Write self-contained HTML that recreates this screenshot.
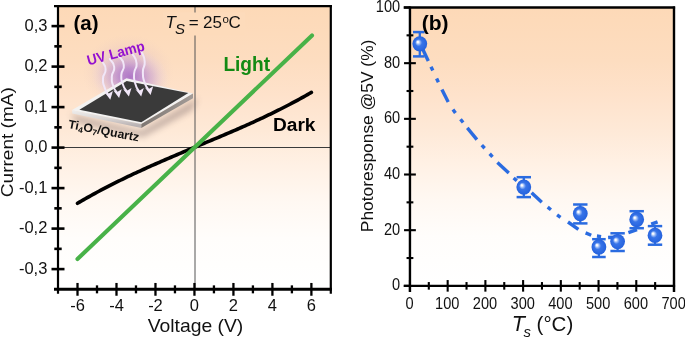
<!DOCTYPE html>
<html><head><meta charset="utf-8">
<style>
html,body{margin:0;padding:0;background:#fff;}
body{width:685px;height:338px;overflow:hidden;font-family:"Liberation Sans",sans-serif;}
svg{display:block;font-family:"Liberation Sans",sans-serif;will-change:transform;}
</style></head><body>
<svg width="685" height="338" viewBox="0 0 685 338">
<defs>
<linearGradient id="bgA" x1="0" y1="0" x2="0" y2="1">
<stop offset="0" stop-color="#fdd9b7"/><stop offset="0.19" stop-color="#fdddc0"/><stop offset="0.314" stop-color="#fee2cb"/><stop offset="0.44" stop-color="#fee9d7"/><stop offset="0.566" stop-color="#fff1e5"/><stop offset="0.69" stop-color="#fff8f2"/><stop offset="0.82" stop-color="#fffdfb"/><stop offset="1" stop-color="#ffffff"/>
</linearGradient>
<radialGradient id="glow" cx="0.5" cy="0.5" r="0.5">
<stop offset="0" stop-color="#9a58c6" stop-opacity="0.72"/><stop offset="0.3" stop-color="#a973cf" stop-opacity="0.62"/><stop offset="0.58" stop-color="#c29bd8" stop-opacity="0.42"/><stop offset="0.82" stop-color="#dcc3e4" stop-opacity="0.18"/><stop offset="1" stop-color="#ead9f0" stop-opacity="0"/>
</radialGradient>
<radialGradient id="halo" cx="0.5" cy="0.5" r="0.5">
<stop offset="0" stop-color="#c9a3cb" stop-opacity="0.5"/><stop offset="0.55" stop-color="#dbb9c6" stop-opacity="0.34"/><stop offset="0.8" stop-color="#e6c6c4" stop-opacity="0.16"/><stop offset="1" stop-color="#eed0c2" stop-opacity="0"/>
</radialGradient>
<linearGradient id="faceL" x1="0" y1="0" x2="0.2" y2="1"><stop offset="0" stop-color="#efedec"/><stop offset="0.55" stop-color="#d9d5d4"/><stop offset="1" stop-color="#b9b2b3"/></linearGradient>
<linearGradient id="faceR" x1="0" y1="0" x2="1" y2="0"><stop offset="0" stop-color="#7d7672"/><stop offset="1" stop-color="#a39c98"/></linearGradient>
<radialGradient id="ball" cx="0.5" cy="0.5" r="0.5" fx="0.35" fy="0.37">
<stop offset="0" stop-color="#ffffff"/><stop offset="0.1" stop-color="#f6f9ff"/><stop offset="0.28" stop-color="#8fb3f5"/><stop offset="0.46" stop-color="#3874e8"/><stop offset="1" stop-color="#2562dd"/>
</radialGradient>
<filter id="blur3" x="-30%" y="-30%" width="160%" height="160%"><feGaussianBlur stdDeviation="3"/></filter>
</defs>
<rect width="685" height="338" fill="#fff"/>

<rect x="58" y="6.1" width="272.8" height="283.25" fill="url(#bgA)"/>
<line x1="58" y1="147.5" x2="330.8" y2="147.5" stroke="#3a3a3a" stroke-width="1"/>
<line x1="195" y1="6.1" x2="195" y2="289.35" stroke="#555" stroke-width="1"/>
<rect x="163" y="12.5" width="82" height="23" fill="#fddbbb"/>
<g id="inset">
<ellipse cx="128" cy="72" rx="46" ry="38" fill="url(#halo)"/>
<ellipse cx="130" cy="77" rx="39" ry="30" fill="url(#glow)" transform="rotate(10 130 77)"/>
<polygon points="70,114 141,131 198,98 192,110 143,137 78,123" fill="#7d6a6c" opacity="0.45" filter="url(#blur3)"/>
<polygon points="126.5,78.2 193.2,93.4 141.3,124.1 71.6,110.2" fill="#f3f2f1"/>
<polygon points="72.2,110.3 141.3,124 141.3,128 72.2,113.4" fill="url(#faceL)"/>
<polygon points="141.3,124 193,93.6 193,98.2 141.3,128" fill="url(#faceR)"/>
<polygon points="126.7,80.9 188.3,93.1 141.3,122.2 79.4,109.8" fill="#3a3a3a"/>
<g fill="none" stroke="#f1e7f8" stroke-width="2" stroke-linecap="round">
<path d="M102.6,62 C103.6,64.5 105.47,64 105.6,69.5 C105.73,75 103.33,72.5 103,78.5 C102.67,84.5 102.9,82.2 104.6,87.5 C106.3,92.8 106.93,92.1 108.1,94.4"/>
<path d="M109.8,59 C111.27,61.67 113.53,61.07 114.2,67 C114.87,72.93 112.1,70.47 111.8,76.8 C111.5,83.13 111.6,80.7 113.3,86 C115,91.3 115.7,90.47 116.9,92.7"/>
<path d="M119,56 C120.6,59 123.03,58.67 123.8,65 C124.57,71.33 121.6,68.5 121.3,75 C121,81.5 121.1,79.07 122.9,84.5 C124.7,89.93 125.43,89.03 126.7,91.3"/>
<path d="M132.6,54 C133.93,57.17 136.1,56.97 136.6,63.5 C137.1,70.03 134.5,66.77 134.1,73.6 C133.7,80.43 133.77,78.1 135.4,84 C137.03,89.9 137.8,88.87 139,91.3"/>
<path d="M141.4,51.5 C142.5,54.83 144.2,54.67 144.7,61.5 C145.2,68.33 142.93,65 142.9,72 C142.87,79 142.77,76.63 144.6,82.5 C146.43,88.37 147.13,87.23 148.4,89.6"/>
</g>
<g fill="#f1e7f8">
<path d="M110.3,99.7 L104.4,92 L108,94 L112.9,91 Z"/>
<path d="M119.1,98 L113.2,90.3 L116.8,92.3 L121.7,89.3 Z"/>
<path d="M128.9,96.6 L123,88.9 L126.6,90.9 L131.5,87.9 Z"/>
<path d="M141.2,96.6 L135.3,88.9 L138.9,90.9 L143.8,87.9 Z"/>
<path d="M150.6,94.9 L144.7,87.2 L148.3,89.2 L153.2,86.2 Z"/>
</g>
<text transform="translate(88.5,65.5) rotate(-15)" font-size="14.5" font-weight="bold" fill="#9310d0" textLength="59" lengthAdjust="spacingAndGlyphs">UV Lamp</text>
<text transform="translate(67.7,128) rotate(10.8)" font-size="12.1" font-weight="bold" fill="#111" textLength="72" lengthAdjust="spacingAndGlyphs">Ti<tspan font-size="8.2" dy="2.2">4</tspan><tspan dy="-2.2">O</tspan><tspan font-size="8.2" dy="2.2">7</tspan><tspan dy="-2.2">/Quartz</tspan></text>
</g>
<polyline points="77.51,203.3 79.46,202.15 81.41,201.01 83.36,199.89 85.31,198.77 87.25,197.66 89.2,196.57 91.15,195.48 93.1,194.41 95.05,193.34 97,192.28 98.95,191.23 100.9,190.19 102.85,189.16 104.8,188.14 106.74,187.13 108.69,186.12 110.64,185.13 112.59,184.14 114.54,183.16 116.49,182.18 118.44,181.22 120.39,180.26 122.34,179.31 124.29,178.36 126.23,177.42 128.18,176.49 130.13,175.56 132.08,174.64 134.03,173.73 135.98,172.82 137.93,171.92 139.88,171.02 141.83,170.13 143.78,169.24 145.72,168.36 147.67,167.48 149.62,166.6 151.57,165.73 153.52,164.87 155.47,164.01 157.42,163.15 159.37,162.29 161.32,161.44 163.27,160.6 165.21,159.75 167.16,158.91 169.11,158.07 171.06,157.23 173.01,156.4 174.96,155.56 176.91,154.73 178.86,153.9 180.81,153.07 182.76,152.25 184.7,151.42 186.65,150.59 188.6,149.77 190.55,148.95 192.5,148.12 194.45,147.3 196.4,146.49 198.35,145.69 200.3,144.88 202.25,144.07 204.19,143.26 206.14,142.45 208.09,141.64 210.04,140.83 211.99,140.02 213.94,139.2 215.89,138.38 217.84,137.56 219.79,136.74 221.74,135.92 223.69,135.09 225.63,134.27 227.58,133.43 229.53,132.6 231.48,131.76 233.43,130.92 235.38,130.08 237.33,129.23 239.28,128.37 241.23,127.52 243.17,126.66 245.12,125.79 247.07,124.92 249.02,124.05 250.97,123.17 252.92,122.28 254.87,121.39 256.82,120.49 258.77,119.59 260.72,118.68 262.66,117.77 264.61,116.85 266.56,115.92 268.51,114.99 270.46,114.05 272.41,113.1 274.36,112.15 276.31,111.18 278.26,110.21 280.21,109.24 282.15,108.25 284.1,107.26 286.05,106.26 288,105.25 289.95,104.23 291.9,103.2 293.85,102.16 295.8,101.12 297.75,100.06 299.7,99 301.64,97.92 303.59,96.84 305.54,95.75 307.49,94.64 309.44,93.53 311.39,92.4" fill="none" stroke="#000" stroke-width="3.6" stroke-linecap="round" stroke-linejoin="round"/>
<line x1="77.5" y1="259" x2="312" y2="35.5" stroke="#48b248" stroke-width="4.1" stroke-linecap="round"/>
<g stroke="#000" fill="none">
<line x1="54" y1="289.35" x2="331.9" y2="289.35" stroke-width="3"/>
<line x1="58" y1="5" x2="58" y2="293.65" stroke-width="2.2"/>
<line x1="54" y1="6.1" x2="331.9" y2="6.1" stroke-width="2.4"/>
<line x1="330.8" y1="5" x2="330.8" y2="293.65" stroke-width="2.2"/>
</g>
<g stroke="#000" stroke-width="2.3">
<line x1="77.51" x2="77.51" y1="282.95" y2="295.75"/>
<line x1="97" x2="97" y1="285.35" y2="293.35"/>
<line x1="116.49" x2="116.49" y1="282.95" y2="295.75"/>
<line x1="135.98" x2="135.98" y1="285.35" y2="293.35"/>
<line x1="155.47" x2="155.47" y1="282.95" y2="295.75"/>
<line x1="174.96" x2="174.96" y1="285.35" y2="293.35"/>
<line x1="194.45" x2="194.45" y1="282.95" y2="295.75"/>
<line x1="213.94" x2="213.94" y1="285.35" y2="293.35"/>
<line x1="233.43" x2="233.43" y1="282.95" y2="295.75"/>
<line x1="252.92" x2="252.92" y1="285.35" y2="293.35"/>
<line x1="272.41" x2="272.41" y1="282.95" y2="295.75"/>
<line x1="291.9" x2="291.9" y1="285.35" y2="293.35"/>
<line x1="311.39" x2="311.39" y1="282.95" y2="295.75"/>
<line x1="51.5" x2="64.5" y1="269.1" y2="269.1" stroke-width="2.6"/>
<line x1="54.3" x2="61.7" y1="248.85" y2="248.85" stroke-width="2.6"/>
<line x1="51.5" x2="64.5" y1="228.6" y2="228.6" stroke-width="2.6"/>
<line x1="54.3" x2="61.7" y1="208.35" y2="208.35" stroke-width="2.6"/>
<line x1="51.5" x2="64.5" y1="188.1" y2="188.1" stroke-width="2.6"/>
<line x1="54.3" x2="61.7" y1="167.85" y2="167.85" stroke-width="2.6"/>
<line x1="51.5" x2="64.5" y1="147.6" y2="147.6" stroke-width="2.6"/>
<line x1="54.3" x2="61.7" y1="127.35" y2="127.35" stroke-width="2.6"/>
<line x1="51.5" x2="64.5" y1="107.1" y2="107.1" stroke-width="2.6"/>
<line x1="54.3" x2="61.7" y1="86.85" y2="86.85" stroke-width="2.6"/>
<line x1="51.5" x2="64.5" y1="66.6" y2="66.6" stroke-width="2.6"/>
<line x1="54.3" x2="61.7" y1="46.35" y2="46.35" stroke-width="2.6"/>
<line x1="51.5" x2="64.5" y1="26.1" y2="26.1" stroke-width="2.6"/>
</g>
<g font-size="16.5" fill="#111">
<text x="77.51" y="311" text-anchor="middle">-6</text>
<text x="116.49" y="311" text-anchor="middle">-4</text>
<text x="155.47" y="311" text-anchor="middle">-2</text>
<text x="194.45" y="311" text-anchor="middle">0</text>
<text x="233.43" y="311" text-anchor="middle">2</text>
<text x="272.41" y="311" text-anchor="middle">4</text>
<text x="311.39" y="311" text-anchor="middle">6</text>
<text x="47.4" y="273.9" text-anchor="end">-0,3</text>
<text x="47.4" y="233.4" text-anchor="end">-0,2</text>
<text x="47.4" y="192.9" text-anchor="end">-0,1</text>
<text x="47.4" y="152.4" text-anchor="end">0,0</text>
<text x="47.4" y="111.9" text-anchor="end">0,1</text>
<text x="47.4" y="71.4" text-anchor="end">0,2</text>
<text x="47.4" y="30.9" text-anchor="end">0,3</text>
</g>
<text x="73.5" y="29.5" font-size="20.5" font-weight="bold" fill="#000">(a)</text>
<text font-size="17" fill="#111"><tspan x="165.4" y="28.4" font-style="italic">T</tspan><tspan x="174.9" y="33.7" font-style="italic" font-size="15">S</tspan><tspan x="188.8" y="28.4">=</tspan><tspan x="203" y="28.4">25</tspan><tspan x="222.4" y="22.9" font-size="11.5">o</tspan><tspan x="228.6" y="28.4">C</tspan></text>
<text transform="translate(223.4,70.5) scale(1,1.06)" font-size="19.1" font-weight="bold" fill="#138a13">Light</text>
<text x="273" y="131.3" font-size="19.1" font-weight="bold" fill="#000">Dark</text>
<text transform="translate(13.3,197.2) rotate(-90)" font-size="17.3" fill="#111" textLength="110" lengthAdjust="spacingAndGlyphs">Current (mA)</text>
<text x="147.7" y="332.1" font-size="18.5" fill="#111" textLength="95.6" lengthAdjust="spacingAndGlyphs">Voltage (V)</text>
<rect x="409.95" y="7.5" width="264.05" height="278.35" fill="url(#bgA)"/>
<g stroke="#2a6be0" stroke-width="3.4" fill="none">
<line x1="420.3" y1="44" x2="428.3" y2="61"/>
<line x1="441.9" y1="89.6" x2="448.2" y2="102"/>
<line x1="467.3" y1="127.9" x2="476.9" y2="139.6"/>
<line x1="497.4" y1="162.4" x2="508.8" y2="173"/>
<line x1="531.6" y1="192.7" x2="541.8" y2="202.3"/>
<line x1="568" y1="222" x2="578.4" y2="229.3"/>
<line x1="585.6" y1="232.9" x2="591.2" y2="235.3"/>
<line x1="608.1" y1="237.5" x2="614" y2="237.2"/>
<line x1="628.4" y1="232.7" x2="637" y2="229.6"/>
<line x1="651.2" y1="224.2" x2="657.6" y2="221.8"/>
<line x1="431" y1="66.7" x2="432.8" y2="70.5"/>
<line x1="436.6" y1="78.4" x2="438.4" y2="82.2"/>
<line x1="452.97" y1="109.5" x2="455.43" y2="112.9"/>
<line x1="460.5" y1="119.25" x2="463.1" y2="122.55"/>
<line x1="481.79" y1="145.14" x2="484.61" y2="148.26"/>
<line x1="489.69" y1="153.74" x2="492.51" y2="156.86"/>
<line x1="513.61" y1="178.03" x2="516.79" y2="180.77"/>
<line x1="547.67" y1="207.08" x2="550.93" y2="209.72"/>
<line x1="557.1" y1="214.86" x2="560.5" y2="217.34"/>
<line x1="596.92" y1="236.03" x2="601.08" y2="236.57"/>
</g>
<g stroke="#2a6be0"><line x1="419.8" x2="419.8" y1="32.1" y2="56.4" stroke-width="2.3"/><line x1="413" x2="424.6" y1="32.1" y2="32.1" stroke-width="2.5"/><line x1="413" x2="424.6" y1="56.4" y2="56.4" stroke-width="2.5"/><ellipse cx="419.8" cy="43.8" rx="7.4" ry="7.65" fill="url(#ball)" stroke="none"/></g>
<g stroke="#2a6be0"><line x1="523.8" x2="523.8" y1="177.2" y2="197.1" stroke-width="2.3"/><line x1="516.6" x2="531" y1="177.2" y2="177.2" stroke-width="2.5"/><line x1="516.6" x2="531" y1="197.1" y2="197.1" stroke-width="2.5"/><ellipse cx="523.8" cy="187.1" rx="7.4" ry="7.65" fill="url(#ball)" stroke="none"/></g>
<g stroke="#2a6be0"><line x1="580.3" x2="580.3" y1="204.5" y2="223.4" stroke-width="2.3"/><line x1="573.1" x2="587.5" y1="204.5" y2="204.5" stroke-width="2.5"/><line x1="573.1" x2="587.5" y1="223.4" y2="223.4" stroke-width="2.5"/><ellipse cx="580.3" cy="213.6" rx="7.4" ry="7.65" fill="url(#ball)" stroke="none"/></g>
<g stroke="#2a6be0"><line x1="598.9" x2="598.9" y1="239.2" y2="257" stroke-width="2.3"/><line x1="592.1" x2="605.7" y1="239.2" y2="239.2" stroke-width="2.5"/><line x1="592.1" x2="605.7" y1="257" y2="257" stroke-width="2.5"/><ellipse cx="598.9" cy="247" rx="7.4" ry="7.65" fill="url(#ball)" stroke="none"/></g>
<g stroke="#2a6be0"><line x1="617.6" x2="617.6" y1="233.3" y2="251" stroke-width="2.3"/><line x1="610.4" x2="624.8" y1="233.3" y2="233.3" stroke-width="2.5"/><line x1="610.4" x2="624.8" y1="251" y2="251" stroke-width="2.5"/><ellipse cx="617.6" cy="241.6" rx="7.4" ry="7.65" fill="url(#ball)" stroke="none"/></g>
<g stroke="#2a6be0"><line x1="636.7" x2="636.7" y1="211.2" y2="228.2" stroke-width="2.3"/><line x1="629.5" x2="643.9" y1="211.2" y2="211.2" stroke-width="2.5"/><line x1="629.5" x2="643.9" y1="228.2" y2="228.2" stroke-width="2.5"/><ellipse cx="636.7" cy="219.5" rx="7.4" ry="7.65" fill="url(#ball)" stroke="none"/></g>
<g stroke="#2a6be0"><line x1="655" x2="655" y1="226.1" y2="244.7" stroke-width="2.3"/><line x1="647.8" x2="662.2" y1="226.1" y2="226.1" stroke-width="2.5"/><line x1="647.8" x2="662.2" y1="244.7" y2="244.7" stroke-width="2.5"/><ellipse cx="655" cy="235.4" rx="7.4" ry="7.65" fill="url(#ball)" stroke="none"/></g>
<g stroke="#000" stroke-width="2.4" fill="none">
<line x1="403.65" y1="285.85" x2="675.1" y2="285.85"/>
<line x1="409.95" y1="6.4" x2="409.95" y2="292.05"/>
<line x1="403.65" y1="7.5" x2="675.1" y2="7.5"/>
<line x1="674" y1="6.4" x2="674" y2="292.05"/>
</g>
<g stroke="#000" stroke-width="2.1">
<line x1="409.95" x2="409.95" y1="280.05" y2="291.65"/>
<line x1="428.81" x2="428.81" y1="282.05" y2="289.65"/>
<line x1="447.67" x2="447.67" y1="280.05" y2="291.65"/>
<line x1="466.53" x2="466.53" y1="282.05" y2="289.65"/>
<line x1="485.39" x2="485.39" y1="280.05" y2="291.65"/>
<line x1="504.25" x2="504.25" y1="282.05" y2="289.65"/>
<line x1="523.11" x2="523.11" y1="280.05" y2="291.65"/>
<line x1="541.97" x2="541.97" y1="282.05" y2="289.65"/>
<line x1="560.83" x2="560.83" y1="280.05" y2="291.65"/>
<line x1="579.69" x2="579.69" y1="282.05" y2="289.65"/>
<line x1="598.55" x2="598.55" y1="280.05" y2="291.65"/>
<line x1="617.42" x2="617.42" y1="282.05" y2="289.65"/>
<line x1="636.28" x2="636.28" y1="280.05" y2="291.65"/>
<line x1="655.14" x2="655.14" y1="282.05" y2="289.65"/>
<line x1="674" x2="674" y1="280.05" y2="291.65"/>
<line x1="404.05" x2="409.95" y1="285.85" y2="285.85"/>
<line x1="406.55" x2="413.35" y1="258.02" y2="258.02"/>
<line x1="404.05" x2="415.85" y1="230.18" y2="230.18"/>
<line x1="406.55" x2="413.35" y1="202.35" y2="202.35"/>
<line x1="404.05" x2="415.85" y1="174.51" y2="174.51"/>
<line x1="406.55" x2="413.35" y1="146.68" y2="146.68"/>
<line x1="404.05" x2="415.85" y1="118.84" y2="118.84"/>
<line x1="406.55" x2="413.35" y1="91.01" y2="91.01"/>
<line x1="404.05" x2="415.85" y1="63.17" y2="63.17"/>
<line x1="406.55" x2="413.35" y1="35.34" y2="35.34"/>
<line x1="404.05" x2="409.95" y1="7.5" y2="7.5"/>
</g>
<g font-size="14.6" fill="#111">
<text transform="translate(409.55,308.5) scale(1,1.11)" text-anchor="middle">0</text>
<text transform="translate(447.27,308.5) scale(1,1.11)" text-anchor="middle">100</text>
<text transform="translate(484.99,308.5) scale(1,1.11)" text-anchor="middle">200</text>
<text transform="translate(522.71,308.5) scale(1,1.11)" text-anchor="middle">300</text>
<text transform="translate(560.43,308.5) scale(1,1.11)" text-anchor="middle">400</text>
<text transform="translate(598.15,308.5) scale(1,1.11)" text-anchor="middle">500</text>
<text transform="translate(635.88,308.5) scale(1,1.11)" text-anchor="middle">600</text>
<text transform="translate(673.6,308.5) scale(1,1.11)" text-anchor="middle">700</text>
<text transform="translate(400.2,290.45) scale(1,1.11)" text-anchor="end">0</text>
<text transform="translate(400.2,234.78) scale(1,1.11)" text-anchor="end">20</text>
<text transform="translate(400.2,179.11) scale(1,1.11)" text-anchor="end">40</text>
<text transform="translate(400.2,123.44) scale(1,1.11)" text-anchor="end">60</text>
<text transform="translate(400.2,67.77) scale(1,1.11)" text-anchor="end">80</text>
<text transform="translate(400.2,12.1) scale(1,1.11)" text-anchor="end">100</text>
</g>
<text x="421.7" y="29.6" font-size="21" font-weight="bold" fill="#000">(b)</text>
<text transform="translate(372.6,232.2) rotate(-90)" font-size="16.5" fill="#111" textLength="192.6" lengthAdjust="spacingAndGlyphs">Photoresponse @5V (%)</text>
<text font-size="20.5" fill="#111"><tspan x="511.8" y="330.9" font-style="italic" font-size="21.5">T</tspan><tspan x="523.4" y="337.4" font-style="italic" font-size="15">s</tspan><tspan x="536.6" y="330.9">(°C)</tspan></text>
</svg>
</body></html>
